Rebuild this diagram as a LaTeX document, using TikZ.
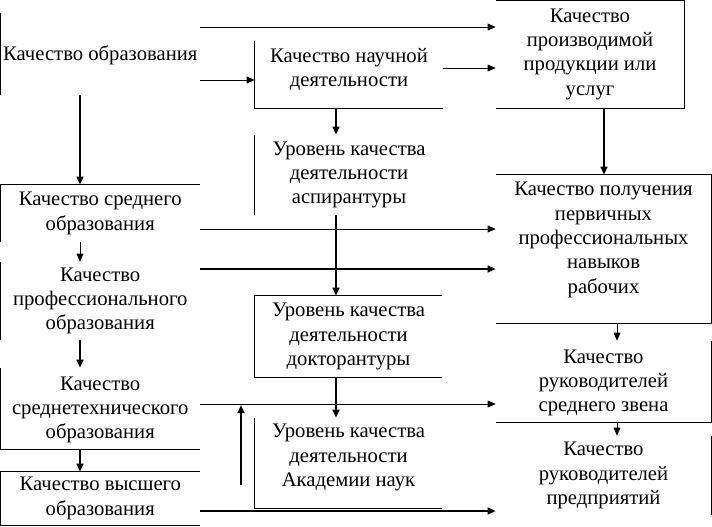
\documentclass[tikz,border=0pt]{standalone}
\usepackage{fontspec}
\setmainfont{Liberation Serif}
\usetikzlibrary{arrows.meta,fit}
\begin{document}
\begin{tikzpicture}[x=0.75pt,y=-0.75pt,
  boxn/.style={inner sep=0pt},
  txt/.style={inner sep=0pt, align=center, font=\fontsize{15.5}{18.3}\selectfont},
  edge/.style={line width=0.75pt},
  conn/.style={line width=0.75pt, -{Triangle[length=6pt,width=5pt]}},
  thickconn/.style={conn, line width=1.4pt},
]
\useasboundingbox (0,0) rectangle (712,526);

% left column
\node[boxn, fit={(0.5,13) (200,95)}, label={[txt, yshift=-1pt]center:Качество образования}] (A) {};
\node[boxn, fit={(0.5,185) (200,242)}, label={[txt]center:Качество среднего\\образования}] (F) {};
\node[boxn, fit={(0.5,262) (200,340)}, label={[txt]center:Качество\\профессионального\\образования}] (G) {};
\node[boxn, fit={(0.5,368) (200,449)}, label={[txt, yshift=-1pt]center:Качество\\среднетехнического\\образования}] (H) {};
\node[boxn, fit={(0.5,472) (200,525)}, label={[txt]center:Качество высшего\\образования}] (I) {};

% middle column
\node[boxn, fit={(255,41) (443,108)}, label={[txt, yshift=4pt]center:Качество научной\\деятельности}] (B) {};
\node[boxn, fit={(255,135) (443,215)}, label={[txt]center:Уровень качества\\деятельности\\аспирантуры}] (C) {};
\node[boxn, fit={(255,296) (442,377)}, label={[txt]center:Уровень качества\\деятельности\\докторантуры}] (D) {};
\node[boxn, fit={(255,418) (442,500)}, label={[txt, yshift=1pt]center:Уровень качества\\деятельности\\Академии наук}] (E) {};
\coordinate (Ebot) at (442,508);

% right column
\node[boxn, fit={(496,0.5) (684,108)}, label={[txt]center:Качество\\производимой\\продукции или\\услуг}] (J) {};
\node[boxn, fit={(496,175) (711,305)}, label={[txt]center:Качество получения\\первичных\\профессиональных\\навыков\\рабочих}] (K) {};
\coordinate (Kbot) at (711,323);
\node[boxn, fit={(496,341) (711,422)}, label={[txt, yshift=-1pt]center:Качество\\руководителей\\среднего звена}] (L) {};
\node[boxn, fit={(496,436) (711,515)}, label={[txt]center:Качество\\руководителей\\предприятий}] (M) {};

% visible box borders
\draw[edge] (A.north west) -- (A.south west);
\draw[edge] (F.north east) -| (F.south west);
\draw[edge] (G.north west) -- (G.south west);
\draw[edge] (H.north west) |- (H.south east);
\draw[edge] (I.north east) -| (I.south west) -- (I.south east);
\draw[edge] (B.north west) |- (B.south east);
\draw[edge] (C.north west) -- (C.south west);
\draw[edge] (D.north east) -| (D.south west) -- (D.south east);
\draw[edge] (E.north west) |- (Ebot);
\draw[edge] (J.north west) -| (J.south east) -- (J.south west);
\draw[edge] (K.north west) -| (Kbot) -- (K.west |- Kbot);
\draw[edge] (L.north east) |- (L.south west);
\draw[edge] (M.north east) -- (M.south east);

% connectors
\draw[conn] (A.east |- 0,27) -- (J.west |- 0,27);
\draw[conn] (A.east |- 0,80) -- (B.west |- 0,80);
\draw[conn] (B.east |- 0,68) -- (J.west |- 0,68);
\draw[thickconn] (80,0 |- A.south) -- (80,0 |- F.north);
\draw[conn] (80,0 |- F.south) -- (80,0 |- G.north);
\draw[thickconn] (80,0 |- G.south) -- (80,0 |- H.north);
\draw[thickconn] (80,0 |- H.south) -- (80,0 |- I.north);
\draw[thickconn] (336,0 |- B.south) -- (336,0 |- C.north);
\draw[thickconn] (336,0 |- C.south) -- (336,0 |- D.north);
\draw[thickconn] (336,0 |- D.south) -- (336,0 |- E.north);
\draw[conn] (F.east |- 0,229) -- (K.west |- 0,229);
\draw[thickconn] (G.east |- 0,269) -- (K.west |- 0,269);
\draw[conn] (H.east |- 0,404) -- (L.west |- 0,404);
\draw[thickconn] (I.east |- 0,511) -- (M.west |- 0,511);
\coordinate (up0) at (241,485);
\coordinate (up1) at (241,405);
\draw[thickconn] (up0) -- (up1);
\draw[thickconn] (604,0 |- J.south) -- (604,0 |- K.north);
\draw[conn] (617,0 |- Kbot) -- (617,0 |- L.north);
\draw[conn] (617,0 |- L.south) -- (617,0 |- M.north);
\end{tikzpicture}
\end{document}
